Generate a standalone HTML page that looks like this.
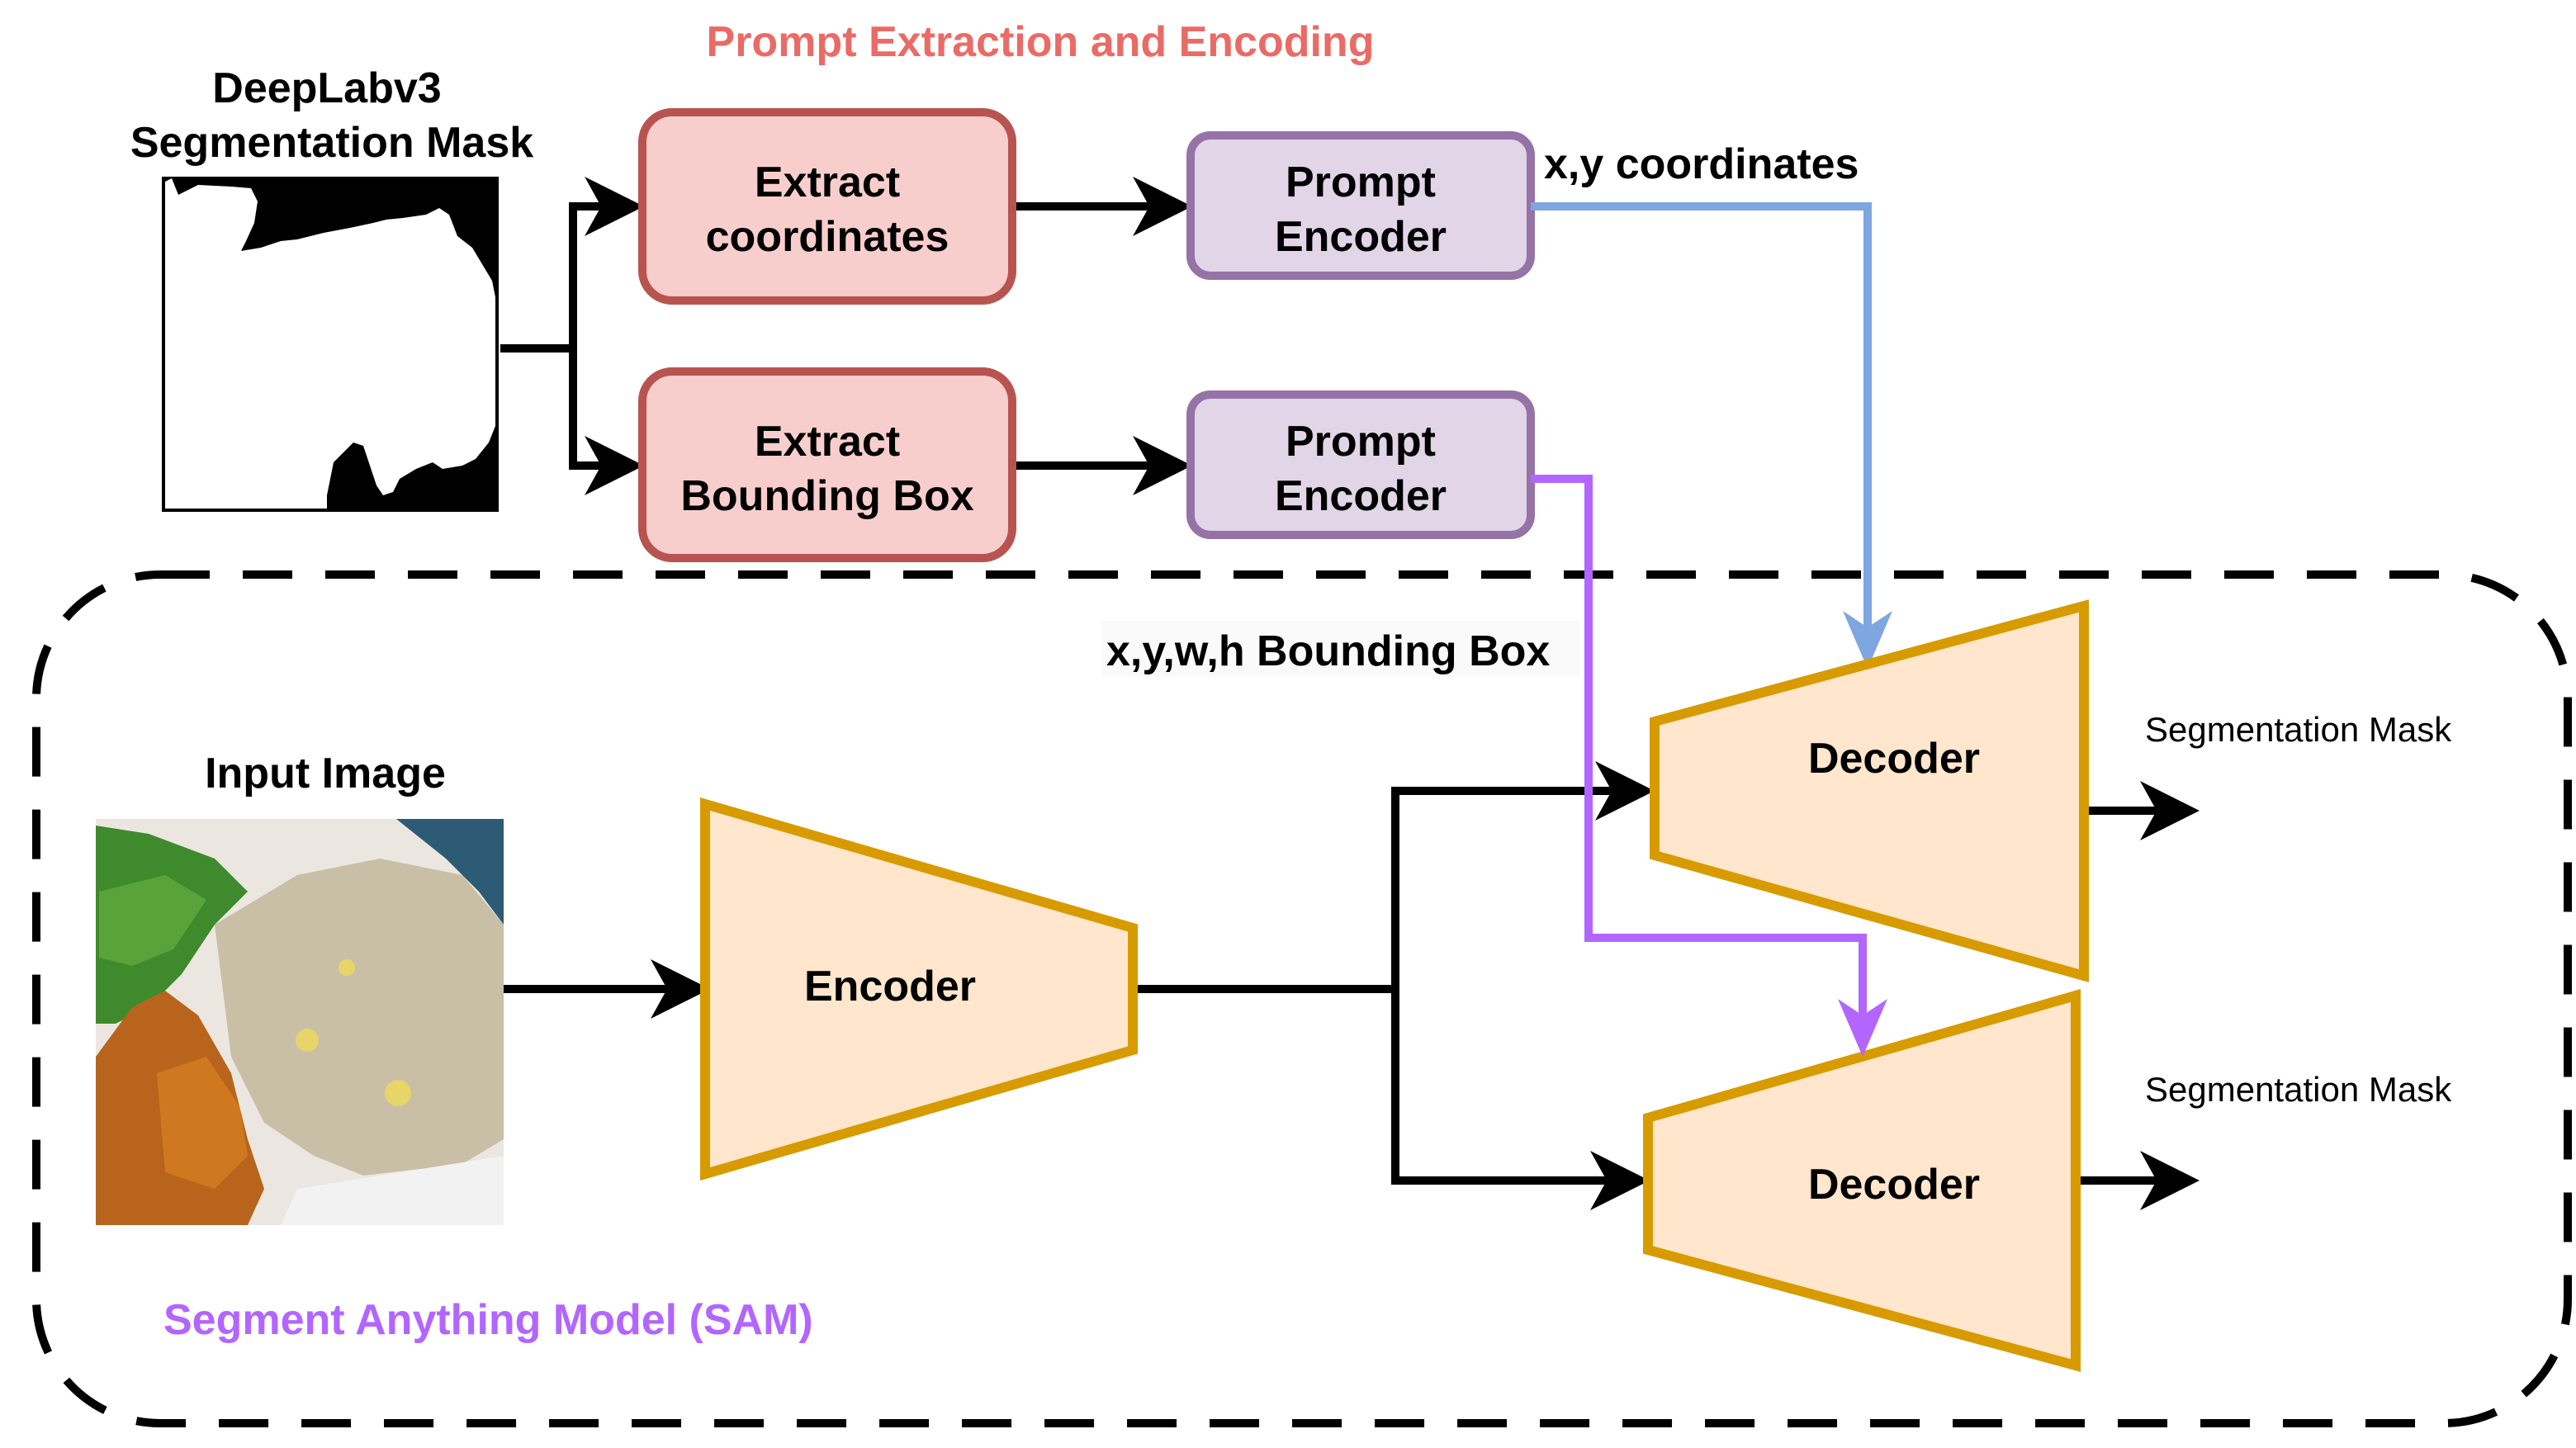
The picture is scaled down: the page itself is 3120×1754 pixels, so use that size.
<!DOCTYPE html>
<html><head><meta charset="utf-8"><style>
html,body{margin:0;padding:0;background:#fff;}
svg{display:block;}
text{font-family:"Liberation Sans",Arial,sans-serif;}
</style></head><body>
<svg width="3120" height="1754" viewBox="0 0 1560 877" xmlns="http://www.w3.org/2000/svg">
<defs>
<linearGradient id="g1" x1="0" y1="0" x2="1" y2="1">
<stop offset="0" stop-color="#e8e4dc"/><stop offset="1" stop-color="#f0f0f0"/></linearGradient>
</defs>
<rect width="1560" height="877" fill="#fff"/>

<!-- Title -->
<text x="630" y="34" font-size="26" font-weight="bold" fill="#ea6b66" text-anchor="middle">Prompt Extraction and Encoding</text>

<!-- DeepLab label -->
<text x="198" y="62" font-size="26" font-weight="bold" text-anchor="middle">DeepLabv3</text>
<text x="201" y="95" font-size="26" font-weight="bold" text-anchor="middle">Segmentation Mask</text>

<!-- Mask -->
<rect x="98" y="107" width="204" height="203" fill="#000"/>
<path d="M100,110 L104,108 L108,118 L120,112 L140,113 L152,114 L156,122 L154,135 L149,146 L146,152 L158,150 L170,146 L180,145 L196,141 L212,138 L226,135 L234,133 L244,132 L258,130 L266,126 L272,130 L277,143 L286,150 L292,160 L298,170 L300,180 L300,258 L296,268 L288,278 L280,282 L268,284 L262,280 L252,284 L242,290 L238,298 L232,300 L228,294 L226,288 L220,270 L214,268 L208,274 L202,280 L198,300 L198,308 L100,308 Z" fill="#fff"/>

<!-- connectors from mask -->
<g stroke="#000" stroke-width="5" fill="none">
<path d="M303,211 H347 V125 H372"/>
<path d="M347,211 V282 H372"/>
<path d="M613,125 H704"/>
<path d="M613,282 H704"/>
<path d="M688,599 H845 V479 H985"/>
<path d="M845,599 V715 H982"/>
<path d="M305,599 H412"/>
<path d="M1262,491 H1316"/>
<path d="M1260,715 H1316"/>
</g>
<g fill="#000">
<polygon points="390,125 354,107 364,125 354,143"/>
<polygon points="390,282 354,264 364,282 354,300"/>
<polygon points="722,125 686,107 696,125 686,143"/>
<polygon points="722,282 686,264 696,282 686,300"/>
<polygon points="430,599 394,581 404,599 394,617"/>
<polygon points="1002,479 966,461 976,479 966,497"/>
<polygon points="999,715 963,697 973,715 963,733"/>
<polygon points="1332,491 1296,473 1306,491 1296,509"/>
<polygon points="1332,715 1296,697 1306,715 1296,733"/>
</g>

<!-- Extract boxes -->
<rect x="389" y="68" width="224" height="114" rx="18" fill="#f8cecc" stroke="#b85450" stroke-width="5"/>
<text x="501" y="119" font-size="26" font-weight="bold" text-anchor="middle">Extract</text>
<text x="501" y="152" font-size="26" font-weight="bold" text-anchor="middle">coordinates</text>
<rect x="389" y="225" width="224" height="113" rx="18" fill="#f8cecc" stroke="#b85450" stroke-width="5"/>
<text x="501" y="276" font-size="26" font-weight="bold" text-anchor="middle">Extract</text>
<text x="501" y="309" font-size="26" font-weight="bold" text-anchor="middle">Bounding Box</text>

<!-- Prompt encoders -->
<rect x="721" y="82" width="206" height="85" rx="12" fill="#e1d5e7" stroke="#9673a6" stroke-width="5"/>
<text x="824" y="119" font-size="26" font-weight="bold" text-anchor="middle">Prompt</text>
<text x="824" y="152" font-size="26" font-weight="bold" text-anchor="middle">Encoder</text>
<rect x="721" y="239" width="206" height="85" rx="12" fill="#e1d5e7" stroke="#9673a6" stroke-width="5"/>
<text x="824" y="276" font-size="26" font-weight="bold" text-anchor="middle">Prompt</text>
<text x="824" y="309" font-size="26" font-weight="bold" text-anchor="middle">Encoder</text>

<text x="935" y="108" font-size="26" font-weight="bold">x,y coordinates</text>

<!-- Dashed container -->
<rect x="22" y="348" width="1533" height="514" rx="75" fill="none" stroke="#000" stroke-width="5" stroke-dasharray="30,20"/>

<!-- label bg -->
<rect x="667" y="376" width="290" height="34" fill="#fafafa"/>
<text x="670" y="403" font-size="26" font-weight="bold">x,y,w,h Bounding Box</text>

<!-- Blue connector -->
<path d="M927,125 H1131 V392" fill="none" stroke="#7ea6e0" stroke-width="5"/>
<polygon points="1131,405 1116,370 1131,380 1146,370" fill="#7ea6e0"/>

<!-- Input image -->
<text x="197" y="477" font-size="26" font-weight="bold" text-anchor="middle">Input Image</text>
<g>
<rect x="58" y="496" width="247" height="246" fill="#ebe7e0"/>
<path d="M240,496 H305 V560 L290,540 L270,520 Z" fill="#2d5a74"/>
<path d="M130,560 L180,530 L230,520 L280,530 L305,560 V690 L280,705 L220,712 L190,700 L160,680 L140,640 Z" fill="#c9bfa6"/>
<path d="M58,500 L90,505 L130,520 L150,540 L130,560 L110,590 L90,610 L70,620 L58,620 Z" fill="#3f8a2c"/>
<path d="M60,540 L100,530 L125,545 L105,575 L80,585 L60,580 Z" fill="#5aa23a"/>
<path d="M58,640 L80,610 L100,600 L120,615 L140,650 L150,690 L160,720 L150,742 H58 Z" fill="#b8641c"/>
<path d="M95,650 L125,640 L145,670 L150,700 L130,720 L100,710 Z" fill="#d0781f"/>
<circle cx="241" cy="662" r="8" fill="#e7d56a"/>
<circle cx="186" cy="630" r="7" fill="#e7d56a"/>
<circle cx="210" cy="586" r="5" fill="#e7d56a"/>
<path d="M180,720 L230,712 L305,700 V742 H170 Z" fill="#f2f2f2"/>
</g>

<!-- Encoder -->
<polygon points="427,487 686,562 686,636 427,711" fill="#ffe6cc" stroke="#d79b00" stroke-width="6"/>
<text x="539" y="606" font-size="26" font-weight="bold" text-anchor="middle">Encoder</text>

<!-- Decoders -->
<polygon points="1002,437 1262,367 1262,591 1002,518" fill="#ffe6cc" stroke="#d79b00" stroke-width="6"/>
<text x="1147" y="468" font-size="26" font-weight="bold" text-anchor="middle">Decoder</text>
<polygon points="998,677 1257,603 1257,827 998,757" fill="#ffe6cc" stroke="#d79b00" stroke-width="6"/>
<text x="1147" y="726" font-size="26" font-weight="bold" text-anchor="middle">Decoder</text>

<!-- Purple connector -->
<path d="M927,290 H962 V568 H1128 V628" fill="none" stroke="#b266ff" stroke-width="5"/>
<polygon points="1128,640 1113,605 1128,615 1143,605" fill="#b266ff"/>

<text x="1299" y="449" font-size="21">Segmentation Mask</text>
<text x="1299" y="667" font-size="21">Segmentation Mask</text>

<text x="99" y="808" font-size="26" font-weight="bold" fill="#b266ff">Segment Anything Model (SAM)</text>
</svg>
</body></html>
